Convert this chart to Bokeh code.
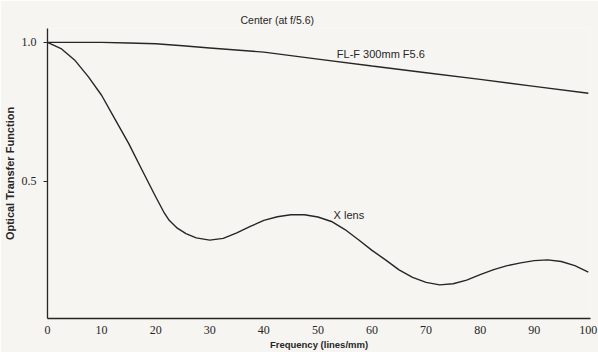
from bokeh.plotting import figure
from bokeh.models import Label, FixedTicker, Range1d, Title, NumeralTickFormatter
from bokeh.embed import file_html
from bokeh.resources import INLINE

# ---- data ----
flf_x = [0, 10, 15, 20, 25, 30, 40, 50, 60, 70, 80, 90, 100]
flf_y = [1.0, 1.0, 0.998, 0.995, 0.988, 0.98, 0.965, 0.94, 0.915, 0.891, 0.867, 0.842, 0.817]

xlens_x = [0, 2.5, 5, 7.5, 10, 12.5, 15, 17.5, 20, 21.5, 22.5, 24, 25.6, 27.5, 30,
           32.5, 35, 37.5, 40, 42.5, 45, 47.5, 50, 52.5, 55, 57.5, 60, 62.5, 65,
           67.5, 70, 72.5, 75, 77.5, 80, 82.5, 85, 87.5, 90, 92.5, 95, 97.5, 100]
xlens_y = [1.0, 0.978, 0.937, 0.878, 0.81, 0.723, 0.637, 0.54, 0.445, 0.39, 0.36,
           0.332, 0.312, 0.297, 0.289, 0.295, 0.315, 0.338, 0.36, 0.373, 0.38, 0.38,
           0.372, 0.356, 0.327, 0.29, 0.252, 0.218, 0.182, 0.155, 0.137, 0.128,
           0.132, 0.145, 0.165, 0.183, 0.197, 0.207, 0.215, 0.218, 0.212, 0.197, 0.174]

x_ticks = [0, 10, 20, 30, 40, 50, 60, 70, 80, 90, 100]
y_ticks = [0.5, 1.0]

BG = "#f6f5f1"
INK = "#262626"
SANS = "Liberation Sans"
SERIF = "Liberation Serif"

p = figure(width=598, height=352, output_backend="svg", toolbar_location=None,
           x_range=Range1d(0, 100.4), y_range=Range1d(0.007, 1.05),
           min_border_left=44, min_border_right=8, min_border_top=28,
           min_border_bottom=34)
p.background_fill_color = BG
p.border_fill_color = BG
p.outline_line_color = None
p.grid.visible = False

p.title = Title(text="Center (at f/5.6)", align="left", offset=193,
                text_font=SANS, text_font_size="10.5px", text_font_style="normal",
                text_color=INK, standoff=5)

p.line(flf_x, flf_y, line_color=INK, line_width=1.4)
p.line(xlens_x, xlens_y, line_color=INK, line_width=1.4, line_join="round")

xa = p.xaxis[0]
xa.ticker = FixedTicker(ticks=x_ticks)
xa.major_tick_out = 0
xa.major_tick_in = 0
xa.minor_tick_line_color = None
xa.axis_line_color = INK
xa.axis_line_width = 1.3
xa.major_label_text_font = SERIF
xa.major_label_text_font_size = "12px"
xa.major_label_text_color = INK
xa.major_label_standoff = 7
xa.axis_label = "Frequency (lines/mm)"
xa.axis_label_text_font = SANS
xa.axis_label_text_font_size = "9.5px"
xa.axis_label_text_font_style = "bold"
xa.axis_label_text_color = INK
xa.axis_label_standoff = 2

ya = p.yaxis[0]
ya.ticker = FixedTicker(ticks=y_ticks)
ya.major_tick_out = 4
ya.major_tick_in = 0
ya.major_tick_line_color = INK
ya.minor_tick_line_color = None
ya.axis_line_color = INK
ya.axis_line_width = 1.3
ya.major_label_text_font = SERIF
ya.major_label_text_font_size = "12px"
ya.major_label_text_color = INK
ya.major_label_standoff = 7
ya.formatter = NumeralTickFormatter(format="0.0")
ya.axis_label = "Optical Transfer Function"
ya.axis_label_text_font = SANS
ya.axis_label_text_font_size = "11px"
ya.axis_label_text_font_style = "bold"
ya.axis_label_text_color = INK
ya.axis_label_standoff = 3


def lab(x, y, t, size="11px"):
    p.add_layout(Label(x=x, y=y, text=t, text_font=SANS, text_font_size=size,
                       text_color=INK, text_align="left", text_baseline="middle"))


lab(53.5, 0.957, "FL-F 300mm F5.6")
lab(52.9, 0.378, "X lens")

open("out.html", "w").write(file_html(p, INLINE))
